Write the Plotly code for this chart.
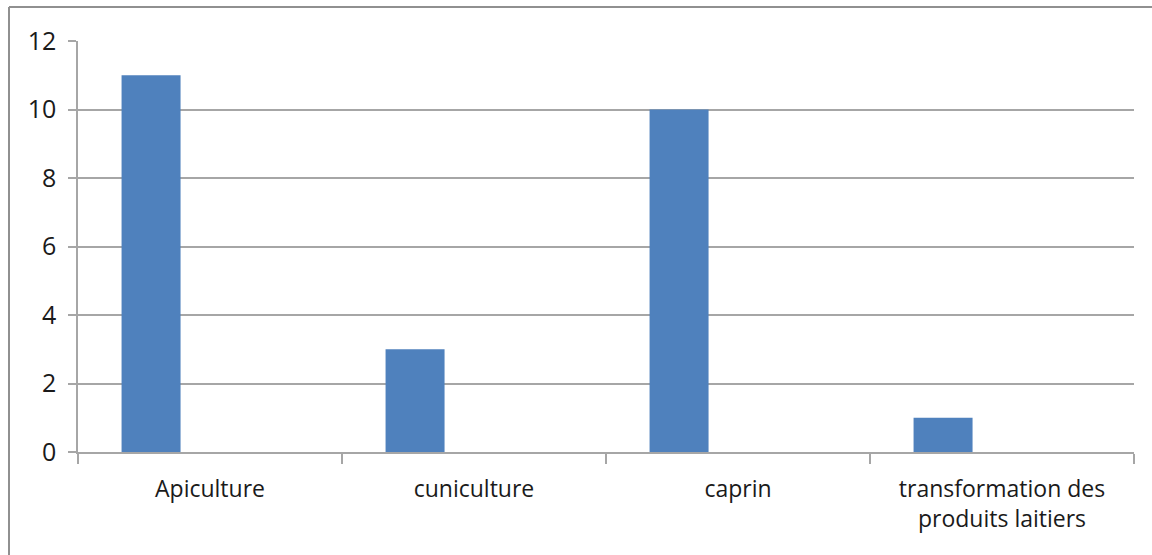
import plotly.graph_objects as go

categories = ["Apiculture", "cuniculture", "caprin", "transformation des<br>produits laitiers"]
values = [11, 3, 10, 1]
y_ticks = [0, 2, 4, 6, 8, 10, 12]

fig = go.Figure()
fig.add_trace(go.Bar(
    x=categories, y=values,
    marker=dict(color="#4f81bd", line=dict(width=0)),
    width=0.2235, offset=-0.335,
))

axis_gray = "#a6a6a6"
fig.update_layout(
    width=1152, height=555,
    margin=dict(l=78, r=18, t=41, b=103),
    paper_bgcolor="white", plot_bgcolor="white",
    showlegend=False,
    font=dict(family="Open Sans", color="#1a1a1a"),
    xaxis=dict(
        type="category", range=[-0.5, 3.5],
        showline=True, linecolor=axis_gray, linewidth=1.5,
        ticks="outside", tickson="boundaries", ticklen=10, tickcolor=axis_gray, tickwidth=1.5,
        showgrid=False, tickfont=dict(size=23), ticklabelstandoff=16,
    ),
    yaxis=dict(
        range=[0, 12], tickvals=y_ticks,
        showline=True, linecolor=axis_gray, linewidth=1.5,
        ticks="outside", ticklen=8, tickcolor=axis_gray, tickwidth=1.5,
        showgrid=True, gridcolor=axis_gray, gridwidth=1.5, zeroline=False,
        tickfont=dict(size=25), ticklabelstandoff=7,
    ),
    shapes=[
        dict(type="line", xref="paper", yref="paper",
             x0=(9 - 78) / 1056, x1=(9 - 78) / 1056, y0=-0.3, y1=1 + (41 - 7) / 411,
             line=dict(color="#909090", width=2)),
        dict(type="line", xref="paper", yref="paper",
             x0=(9 - 78) / 1056, x1=1.05, y0=1 + (41 - 7) / 411, y1=1 + (41 - 7) / 411,
             line=dict(color="#909090", width=2)),
    ],
)

fig.write_html("out.html", config={"displayModeBar": False},
               post_script="document.body.style.margin='0';document.body.style.overflow='hidden';")
